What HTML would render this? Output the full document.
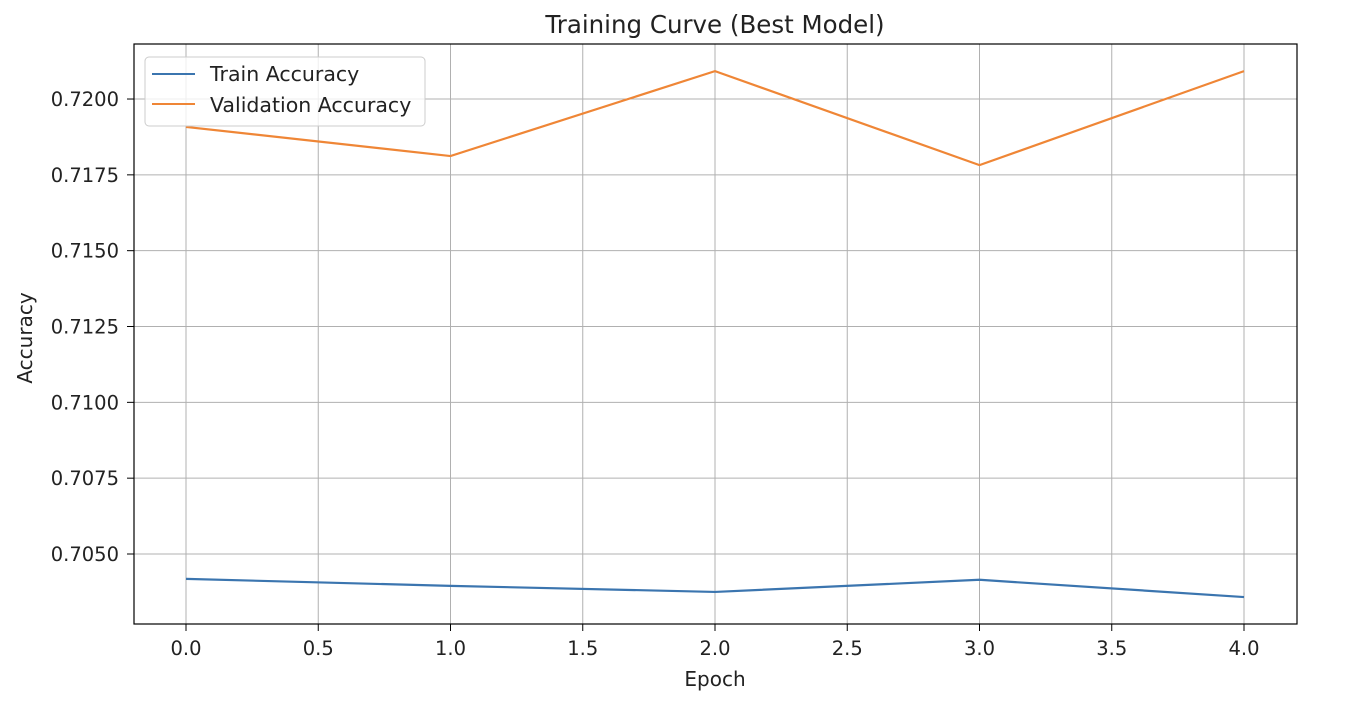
<!DOCTYPE html>
<html><head><meta charset="utf-8"><style>
html,body{margin:0;padding:0;background:#fff;}
svg text{font-family:"DejaVu Sans","Liberation Sans",sans-serif;fill:#222;}
</style></head><body>
<svg id="chart" width="1366" height="706">
<text x="715" y="33" font-size="24.5" text-anchor="middle">Training Curve (Best Model)</text>
<g id="grid"></g>
<g id="ticks"></g>
<g id="series"></g>
<rect x="134" y="44" width="1163" height="580" fill="none" stroke="#000" stroke-width="1.2"/>
<text x="715" y="686" font-size="20" text-anchor="middle">Epoch</text>
<text transform="translate(32,338) rotate(-90)" font-size="20" text-anchor="middle">Accuracy</text>
<g>
<rect x="145" y="57" width="280" height="69" rx="4" fill="#fff" fill-opacity="0.8" stroke="#ccc"/>
<line x1="152" y1="74" x2="195" y2="74" stroke="#3b75af" stroke-width="2"/>
<text x="210" y="81" font-size="20.5">Train Accuracy</text>
<line x1="152" y1="104" x2="195" y2="104" stroke="#ef8636" stroke-width="2"/>
<text x="210" y="112" font-size="20.5">Validation Accuracy</text>
</g>
</svg>
<script>
const epochs=[0,1,2,3,4];
const trainAcc=[0.70418,0.70395,0.70375,0.70415,0.70358];
const valAcc=[0.71908,0.71812,0.72092,0.71782,0.72092];
const xTicks=[0,0.5,1,1.5,2,2.5,3,3.5,4];
const yTicks=[0.7050,0.7075,0.7100,0.7125,0.7150,0.7175,0.7200];
const NS="http://www.w3.org/2000/svg";
function xs(v){return 186+v*264.5;}
function ys(v){return 554-(v-0.705)/0.0025*75.83;}
function mk(tag,attrs,parent){const e=document.createElementNS(NS,tag);for(const k in attrs)e.setAttribute(k,attrs[k]);document.getElementById(parent).appendChild(e);return e;}
xTicks.forEach(t=>{
 const g=mk('line',{x1:xs(t),x2:xs(t),y1:44,y2:624,stroke:'#b0b0b0','stroke-width':1},'grid');
 
 
 const tk=mk('line',{x1:xs(t),x2:xs(t),y1:624,y2:631,stroke:'#000'},'ticks');
 
 
 const l=mk('text',{x:xs(t),y:655,'font-size':19.5,'text-anchor':'middle'},'ticks');
 l.textContent=t.toFixed(1);
 
 
});
yTicks.forEach(t=>{
 const g=mk('line',{x1:134,x2:1297,y1:ys(t),y2:ys(t),stroke:'#b0b0b0','stroke-width':1},'grid');
 
 
 const tk=mk('line',{x1:127,x2:134,y1:ys(t),y2:ys(t),stroke:'#000'},'ticks');
 
 
 const l=mk('text',{x:119,y:ys(t)+7,'font-size':19.5,'text-anchor':'end'},'ticks');
 l.textContent=t.toFixed(4);
 
 
});
function line(vals,color,name){
 const p=mk('polyline',{points:epochs.map((e,i)=>xs(e)+','+ys(vals[i])).join(' '),fill:'none',stroke:color,'stroke-width':2.2},'series');
 
 
}
line(trainAcc,'#3b75af','train-accuracy-line');
line(valAcc,'#ef8636','validation-accuracy-line');
</script>
</body></html>
